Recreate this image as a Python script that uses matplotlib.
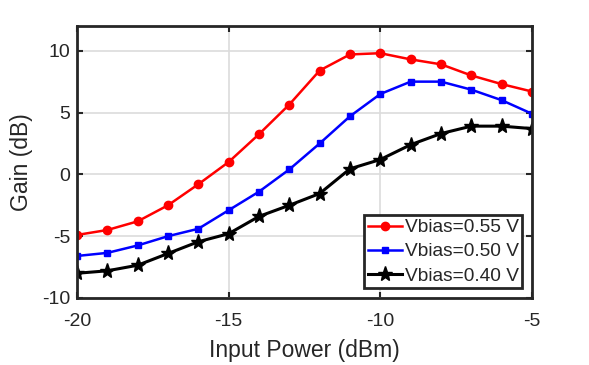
import matplotlib
matplotlib.use('Agg')
import matplotlib.pyplot as plt

plt.rcParams['font.family'] = ['Liberation Sans', 'DejaVu Sans']
plt.rcParams['axes.unicode_minus'] = False

pin = [-20, -19, -18, -17, -16, -15, -14, -13, -12, -11, -10, -9, -8, -7, -6, -5]
gain_055 = [-4.9, -4.5, -3.8, -2.5, -0.8, 1.0, 3.25, 5.65, 8.4, 9.7, 9.8, 9.3, 8.9, 8.0, 7.3, 6.7]
gain_050 = [-6.6, -6.35, -5.75, -5.0, -4.4, -2.9, -1.4, 0.4, 2.5, 4.7, 6.5, 7.5, 7.5, 6.85, 6.0, 4.9]
gain_040 = [-8.0, -7.8, -7.35, -6.4, -5.45, -4.8, -3.4, -2.5, -1.55, 0.45, 1.2, 2.4, 3.3, 3.9, 3.9, 3.7]

xticks = [-20, -15, -10, -5]
yticks = [-10, -5, 0, 5, 10]

fig = plt.figure(figsize=(5.89, 3.65), dpi=100)
ax = fig.add_axes([77/589, 1-298/365, 455/589, 272/365])

ax.plot(pin, gain_055, color='#ff0000', marker='o', markersize=6, lw=1.8, label='Vbias=0.55 V')
ax.plot(pin, gain_050, color='#0000ff', marker='s', markersize=3.8, lw=1.8, label='Vbias=0.50 V')
ax.plot(pin, gain_040, color='black', marker='*', markersize=11, lw=2.2, label='Vbias=0.40 V')

ax.set_xlim(-20, -5)
ax.set_ylim(-10, 12)
ax.set_xticks(xticks)
ax.set_yticks(yticks)
ax.grid(True, color='#dcdcdc', lw=1.2)
ax.set_axisbelow(True)
ax.tick_params(direction='in', top=True, right=True, labelsize=14, length=4, width=1.5, colors='#262626')
ax.tick_params(axis='x', pad=11)
ax.tick_params(axis='y', pad=5)
for s in ax.spines.values():
    s.set_linewidth(2)
    s.set_color('#262626')

ax.set_xlabel('Input Power (dBm)', fontsize=16.5, color='#262626', labelpad=6)
ax.set_ylabel('Gain (dB)', fontsize=16.5, color='#262626', labelpad=6)

leg = ax.legend(loc='lower right', fontsize=13.8, frameon=True, fancybox=False,
                edgecolor='#262626', handlelength=1.75, handletextpad=0.15,
                borderpad=0.2, labelspacing=0.35, borderaxespad=0.5, framealpha=1)
leg.get_frame().set_linewidth(2)
for t in leg.get_texts():
    t.set_color('#262626')

fig.savefig('out.png', dpi=100)
